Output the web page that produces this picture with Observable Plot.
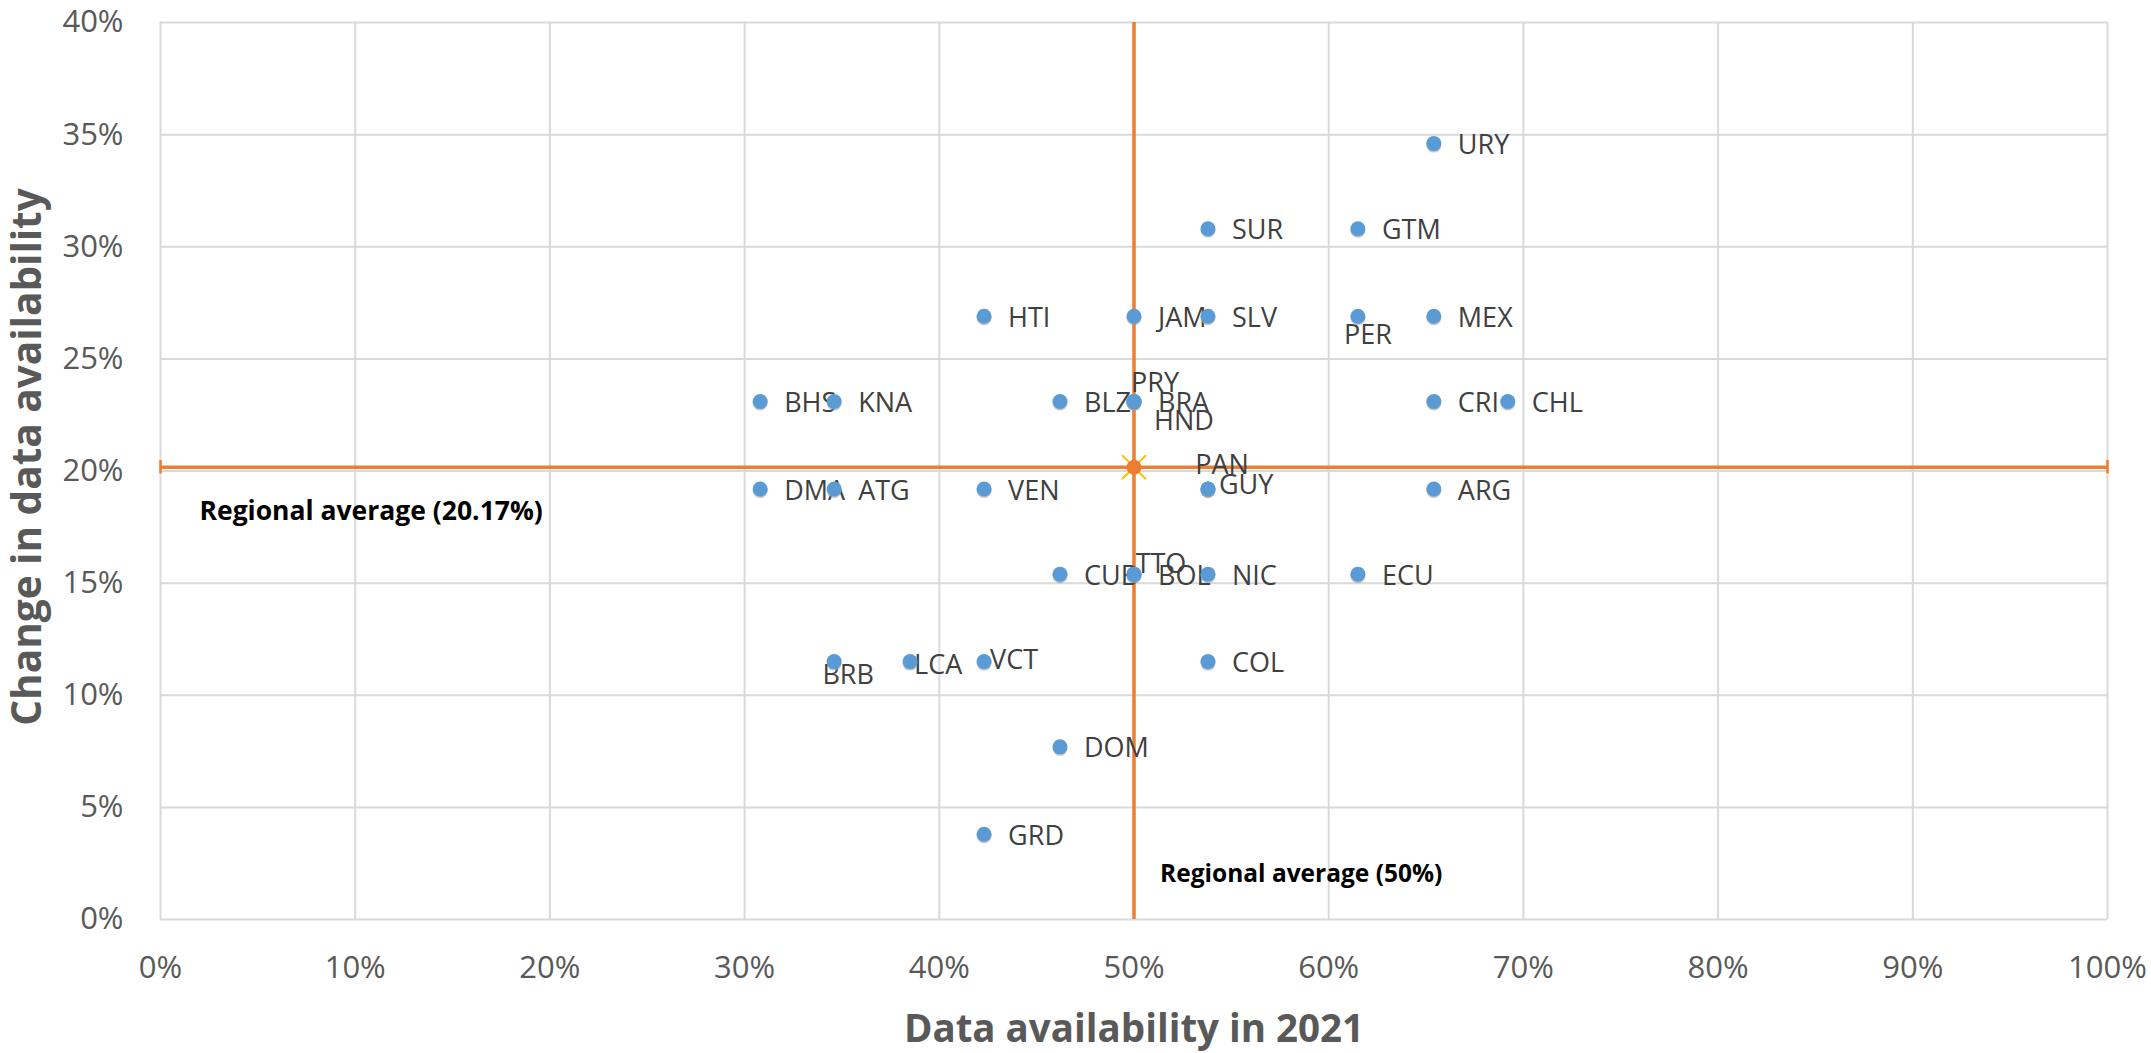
<!DOCTYPE html>
<html>
<head>
<meta charset="utf-8">
<script src="https://cdn.jsdelivr.net/npm/d3@7"></script>
<script src="https://cdn.jsdelivr.net/npm/@observablehq/plot@0.6"></script>
<style>
  html, body { margin: 0; padding: 0; background: #ffffff; }
  #chart svg { display: block; }
</style>
</head>
<body>
<div id="chart"></div>
<script>
// ---- data ----
const countries = ["URY","SUR","GTM","HTI","JAM","SLV","PER","MEX","BHS","KNA","BLZ","PRY","BRA","HND","CRI","CHL",
                   "DMA","ATG","VEN","PAN","GUY","ARG","CUB","TTO","BOL","NIC","ECU","BRB","LCA","VCT","COL","DOM","GRD"];
const availability2021 = [0.654,0.538,0.615,0.423,0.500,0.538,0.615,0.654,0.308,0.346,0.462,0.500,0.500,0.500,0.654,0.692,
                          0.308,0.346,0.423,0.538,0.538,0.654,0.462,0.500,0.500,0.538,0.615,0.346,0.385,0.423,0.538,0.462,0.423];
const changeInAvailability = [0.346,0.308,0.308,0.269,0.269,0.269,0.269,0.269,0.231,0.231,0.231,0.231,0.231,0.231,0.231,0.231,
                              0.192,0.192,0.192,0.192,0.192,0.192,0.154,0.154,0.154,0.154,0.154,0.115,0.115,0.115,0.115,0.077,0.038];
const regionalAvgX = 0.50;
const regionalAvgY = 0.2017;
const xTicks = [0,0.1,0.2,0.3,0.4,0.5,0.6,0.7,0.8,0.9,1.0];
const yTicks = [0,0.05,0.10,0.15,0.20,0.25,0.30,0.35,0.40];
const xTitle = "Data availability in 2021";
const yTitle = "Change in data availability";

// ---- table built from arrays ----
const rows = countries.map((c, i) => ({country: c, x: availability2021[i], y: changeInAvailability[i]}));
const avg = [{x: regionalAvgX, y: regionalAvgY}];

// label placement (style only)
const labelPlacement = {
  PER: {dx: 10, dy: 19, anchor: "middle"},
  BRB: {dx: 14, dy: 14, anchor: "middle"},
  LCA: {dx: 4, dy: 4, anchor: "start"},
  VCT: {dx: 6, dy: -1, anchor: "start"},
  PRY: {dx: 21, dy: -18, anchor: "middle"},
  HND: {dx: 50, dy: 20, anchor: "middle"},
  PAN: {dx: 14, dy: -24, anchor: "middle"},
  GUY: {dx: 11, dy: -4, anchor: "start"},
  TTO: {dx: 27, dy: -10, anchor: "middle"}
};
const defaultPlacement = {dx: 24, dy: 2, anchor: "start"};
const labelColor = "#404040";
const labelFont = 27;

const labelMarks = [];
labelMarks.push(Plot.text(rows.filter(d => !labelPlacement[d.country]), {
  x: "x", y: "y", text: "country", dx: defaultPlacement.dx, dy: defaultPlacement.dy,
  textAnchor: defaultPlacement.anchor, fill: labelColor, fontSize: labelFont
}));
for (const [c, p] of Object.entries(labelPlacement)) {
  labelMarks.push(Plot.text(rows.filter(d => d.country === c), {
    x: "x", y: "y", text: "country", dx: p.dx, dy: p.dy, textAnchor: p.anchor,
    fill: labelColor, fontSize: labelFont
  }));
}

const orange = "#ED7D31";
const pct = d3.format(".0%");

const chart = Plot.plot({
  width: 2151,
  height: 1053,
  marginLeft: 160,
  marginRight: 44,
  marginTop: 22,
  marginBottom: 134,
  style: {fontFamily: "'Open Sans', sans-serif", background: "#ffffff", color: "#595959", overflow: "visible"},
  x: {domain: [0, 1]},
  y: {domain: [0, 0.4]},
  marks: [
    Plot.gridX(xTicks, {stroke: "#D9D9D9", strokeOpacity: 1, strokeWidth: 2}),
    Plot.gridY(yTicks, {stroke: "#D9D9D9", strokeOpacity: 1, strokeWidth: 2}),
    Plot.axisX(xTicks, {tickSize: 0, tickPadding: 36, tickFormat: pct, fontSize: 31, fill: "#595959", label: null}),
    Plot.axisY(yTicks, {tickSize: 0, tickPadding: 37, tickFormat: pct, fontSize: 31, fill: "#595959", label: null}),
    // regional average error-bar lines
    Plot.ruleY(avg, {y: "y", x1: 0, x2: 1, stroke: orange, strokeWidth: 3.5}),
    Plot.ruleX(avg, {x: "x", y1: 0, y2: 0.4, stroke: orange, strokeWidth: 3.5}),
    Plot.ruleX(avg, {x: () => 0, y1: d => d.y - 0.003, y2: d => d.y + 0.003, stroke: orange, strokeWidth: 2.5}),
    Plot.ruleX(avg, {x: () => 1, y1: d => d.y - 0.003, y2: d => d.y + 0.003, stroke: orange, strokeWidth: 2.5}),
    // labels then points
    ...labelMarks,
    Plot.dot(rows, {x: "x", y: "y", r: 7.5, fill: "#9E9E9E", fillOpacity: 0.6, dy: 1.5}),
    Plot.dot(rows, {x: "x", y: "y", r: 7.5, fill: "#5B9BD5"}),
    // average marker
    Plot.dot(avg, {x: "x", y: "y", symbol: "times", r: 11, stroke: "#FFC000", strokeWidth: 2}),
    Plot.dot(avg, {x: "x", y: "y", r: 7.5, fill: orange}),
    // annotations
    Plot.text(avg, {x: () => 0, y: "y", text: d => `Regional average (${(d.y * 100).toFixed(2)}%)`,
      dx: 39, dy: 44, textAnchor: "start", fontWeight: "bold", fontSize: 26.5, fill: "#000000"}),
    Plot.text(avg, {x: "x", y: () => 0, text: d => `Regional average (${Math.round(d.x * 100)}%)`,
      dx: 26, dy: -45, textAnchor: "start", fontWeight: "bold", fontSize: 24.5, fill: "#000000"}),
    // axis titles
    Plot.text([xTitle], {frameAnchor: "bottom", dy: 110, lineAnchor: "middle", textAnchor: "middle",
      text: d => d, fontWeight: "bold", fontSize: 38.5, fill: "#595959"}),
    Plot.text([yTitle], {frameAnchor: "left", dx: -132, dy: -14, rotate: -90, lineAnchor: "middle", textAnchor: "middle",
      text: d => d, fontWeight: "bold", fontSize: 40.5, fill: "#595959"})
  ]
});
document.getElementById("chart").appendChild(chart);
</script>
</body>
</html>
